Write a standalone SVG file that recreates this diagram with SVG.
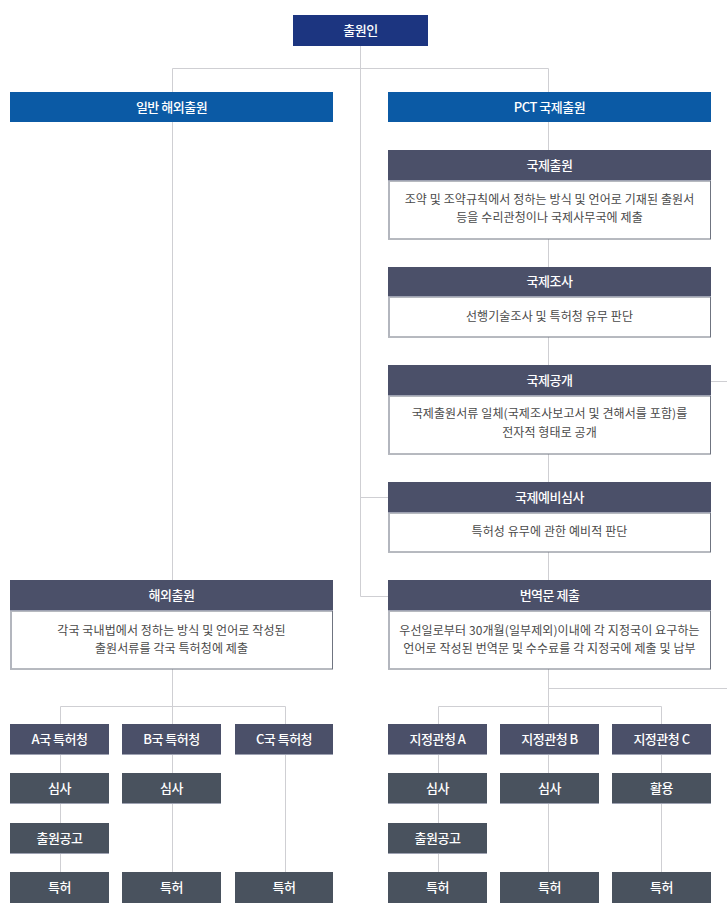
<svg xmlns="http://www.w3.org/2000/svg" width="727" height="915" viewBox="0 0 727 915">
<style>
.ln{fill:none;stroke:#cfcfd3;stroke-width:1}
.navy{fill:#1c3580}
.blue{fill:#0b5aa5}
.hd{fill:#4b5069}
.gr{fill:#49525e}
.edge{stroke:#9ea2b2;stroke-width:1}
.body{fill:#fff;stroke:#6f7480;stroke-width:1}
.lb{stroke:#b3b6be;stroke-width:2}
.ht{font-family:"Noto Sans CJK KR","Noto Sans",sans-serif;font-size:13px;font-weight:500;fill:#fff;text-anchor:middle;letter-spacing:-0.5px}
.bt{font-family:"Noto Sans CJK KR","Noto Sans",sans-serif;font-size:12px;fill:#4a4a4a;text-anchor:middle;letter-spacing:0.1px}
</style>
<rect width="727" height="915" fill="#fff"/>
<g id="connectors">
<path class="ln" d="M360.5 46V596.5H388M360.5 497.5H388"/>
<path class="ln" d="M172.5 92V68.5H548.5V92"/>
<path class="ln" d="M172.5 122V580"/>
<path class="ln" d="M548.5 122V724"/>
<path class="ln" d="M711 381.5H727"/>
<path class="ln" d="M548.5 688.5H727"/>
<path class="ln" d="M172.5 669V872M60.5 724V706.5H285.5V724"/>
<path class="ln" d="M60.5 755V872M285.5 755V872"/>
<path class="ln" d="M438.5 724V706.5H661.5V724"/>
<path class="ln" d="M438.5 755V872M548.5 755V872M661.5 755V872"/>
</g>
<g id="applicant">
<rect class="navy" x="293" y="15" width="135" height="31"/>
<text class="ht" x="360.5" y="35">출원인</text>
</g>
<g id="general">
<rect class="blue" x="10" y="92" width="323" height="30"/>
<text class="ht" x="171.5" y="112">일반 해외출원</text>
</g>
<g id="pct">
<rect class="blue" x="388" y="92" width="323" height="30"/>
<text class="ht" x="549.5" y="112">PCT 국제출원</text>
</g>
<g id="intl-filing">
<rect class="body" x="388.5" y="181" width="322" height="58"/>
<line class="lb" x1="389" y1="181" x2="389" y2="239"/>
<rect class="hd" x="388" y="150" width="323" height="31"/>
<line class="edge" x1="388" y1="180.5" x2="711" y2="180.5"/>
<text class="ht" x="549.5" y="170">국제출원</text>
<text class="bt" x="549.5" y="204">조약 및 조약규칙에서 정하는 방식 및 언어로 기재된 출원서</text>
<text class="bt" x="549.5" y="222">등을 수리관청이나 국제사무국에 제출</text>
</g>
<g id="intl-search">
<rect class="body" x="388.5" y="297" width="322" height="40"/>
<line class="lb" x1="389" y1="297" x2="389" y2="337"/>
<rect class="hd" x="388" y="267" width="323" height="30"/>
<line class="edge" x1="388" y1="296.5" x2="711" y2="296.5"/>
<text class="ht" x="549.5" y="286">국제조사</text>
<text class="bt" x="549.5" y="321">선행기술조사 및 특허청 유무 판단</text>
</g>
<g id="intl-publication">
<rect class="body" x="388.5" y="396" width="322" height="58"/>
<line class="lb" x1="389" y1="396" x2="389" y2="454"/>
<rect class="hd" x="388" y="365" width="323" height="31"/>
<line class="edge" x1="388" y1="395.5" x2="711" y2="395.5"/>
<text class="ht" x="549.5" y="385">국제공개</text>
<text class="bt" x="549.5" y="418">국제출원서류 일체(국제조사보고서 및 견해서를 포함)를</text>
<text class="bt" x="549.5" y="437">전자적 형태로 공개</text>
</g>
<g id="intl-prelim">
<rect class="body" x="388.5" y="513" width="322" height="39"/>
<line class="lb" x1="389" y1="513" x2="389" y2="552"/>
<rect class="hd" x="388" y="482" width="323" height="31"/>
<line class="edge" x1="388" y1="512.5" x2="711" y2="512.5"/>
<text class="ht" x="549.5" y="502">국제예비심사</text>
<text class="bt" x="549.5" y="536">특허성 유무에 관한 예비적 판단</text>
</g>
<g id="overseas">
<rect class="body" x="10.5" y="611" width="322" height="58"/>
<line class="lb" x1="11" y1="611" x2="11" y2="669"/>
<rect class="hd" x="10" y="580" width="323" height="31"/>
<line class="edge" x1="10" y1="610.5" x2="333" y2="610.5"/>
<text class="ht" x="171.5" y="600">해외출원</text>
<text class="bt" x="171.5" y="635">각국 국내법에서 정하는 방식 및 언어로 작성된</text>
<text class="bt" x="171.5" y="653">출원서류를 각국 특허청에 제출</text>
</g>
<g id="translation">
<rect class="body" x="388.5" y="611" width="322" height="58"/>
<line class="lb" x1="389" y1="611" x2="389" y2="669"/>
<rect class="hd" x="388" y="580" width="323" height="31"/>
<line class="edge" x1="388" y1="610.5" x2="711" y2="610.5"/>
<text class="ht" x="549.5" y="600">번역문 제출</text>
<text class="bt" x="549.5" y="635">우선일로부터 30개월(일부제외)이내에 각 지정국이 요구하는</text>
<text class="bt" x="549.5" y="653">언어로 작성된 번역문 및 수수료를 각 지정국에 제출 및 납부</text>
</g>
<g id="office-a">
<rect class="hd" x="10" y="724" width="99" height="31"/>
<line class="edge" x1="10" y1="754.5" x2="109" y2="754.5"/>
<text class="ht" x="59.5" y="744">A국 특허청</text>
</g>
<g id="office-b">
<rect class="hd" x="122" y="724" width="99" height="31"/>
<line class="edge" x1="122" y1="754.5" x2="221" y2="754.5"/>
<text class="ht" x="171.5" y="744">B국 특허청</text>
</g>
<g id="office-c">
<rect class="hd" x="235" y="724" width="98" height="31"/>
<line class="edge" x1="235" y1="754.5" x2="333" y2="754.5"/>
<text class="ht" x="284" y="744">C국 특허청</text>
</g>
<g id="exam-a">
<rect class="gr" x="10" y="773" width="99" height="31"/>
<line class="edge" x1="10" y1="803.5" x2="109" y2="803.5"/>
<text class="ht" x="59.5" y="793">심사</text>
</g>
<g id="exam-b">
<rect class="gr" x="122" y="773" width="99" height="31"/>
<line class="edge" x1="122" y1="803.5" x2="221" y2="803.5"/>
<text class="ht" x="171.5" y="793">심사</text>
</g>
<g id="pub-a">
<rect class="gr" x="10" y="823" width="99" height="31"/>
<line class="edge" x1="10" y1="853.5" x2="109" y2="853.5"/>
<text class="ht" x="59.5" y="843">출원공고</text>
</g>
<g id="patent-a">
<rect class="gr" x="10" y="872" width="99" height="31"/>
<text class="ht" x="59.5" y="892">특허</text>
</g>
<g id="patent-b">
<rect class="gr" x="122" y="872" width="99" height="31"/>
<text class="ht" x="171.5" y="892">특허</text>
</g>
<g id="patent-c">
<rect class="gr" x="235" y="872" width="98" height="31"/>
<text class="ht" x="284" y="892">특허</text>
</g>
<g id="desig-a">
<rect class="hd" x="388" y="724" width="99" height="31"/>
<line class="edge" x1="388" y1="754.5" x2="487" y2="754.5"/>
<text class="ht" x="437.5" y="744">지정관청 A</text>
</g>
<g id="desig-b">
<rect class="hd" x="500" y="724" width="99" height="31"/>
<line class="edge" x1="500" y1="754.5" x2="599" y2="754.5"/>
<text class="ht" x="549.5" y="744">지정관청 B</text>
</g>
<g id="desig-c">
<rect class="hd" x="612" y="724" width="99" height="31"/>
<line class="edge" x1="612" y1="754.5" x2="711" y2="754.5"/>
<text class="ht" x="661.5" y="744">지정관청 C</text>
</g>
<g id="exam-da">
<rect class="gr" x="388" y="773" width="99" height="31"/>
<line class="edge" x1="388" y1="803.5" x2="487" y2="803.5"/>
<text class="ht" x="437.5" y="793">심사</text>
</g>
<g id="exam-db">
<rect class="gr" x="500" y="773" width="99" height="31"/>
<line class="edge" x1="500" y1="803.5" x2="599" y2="803.5"/>
<text class="ht" x="549.5" y="793">심사</text>
</g>
<g id="use-dc">
<rect class="gr" x="612" y="773" width="99" height="31"/>
<line class="edge" x1="612" y1="803.5" x2="711" y2="803.5"/>
<text class="ht" x="661.5" y="793">활용</text>
</g>
<g id="pub-da">
<rect class="gr" x="388" y="823" width="99" height="31"/>
<line class="edge" x1="388" y1="853.5" x2="487" y2="853.5"/>
<text class="ht" x="437.5" y="843">출원공고</text>
</g>
<g id="patent-da">
<rect class="gr" x="388" y="872" width="99" height="31"/>
<text class="ht" x="437.5" y="892">특허</text>
</g>
<g id="patent-db">
<rect class="gr" x="500" y="872" width="99" height="31"/>
<text class="ht" x="549.5" y="892">특허</text>
</g>
<g id="patent-dc">
<rect class="gr" x="612" y="872" width="99" height="31"/>
<text class="ht" x="661.5" y="892">특허</text>
</g>
</svg>
